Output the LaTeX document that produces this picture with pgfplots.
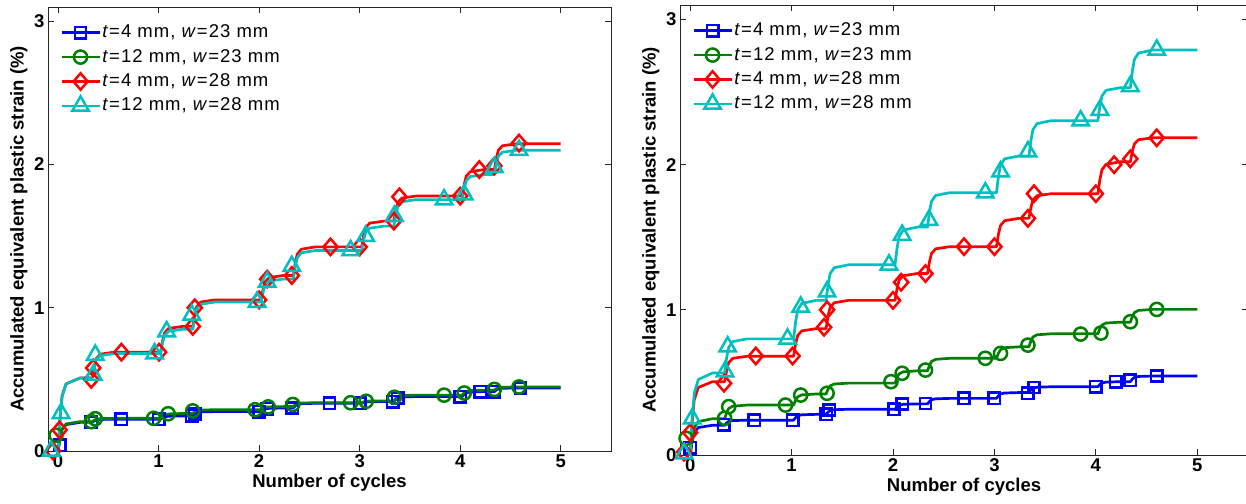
\documentclass[border=0pt]{standalone}
\usepackage{fontspec}
\setmainfont{Liberation Sans}
\newfontfamily\legfont[LetterSpace=5.5]{Liberation Sans}
\usepackage{pgfplots}
\pgfplotsset{compat=1.18}

\definecolor{mblue}{RGB}{0,0,255}
\definecolor{mgreen}{RGB}{0,128,0}
\definecolor{mred}{RGB}{255,0,0}
\definecolor{mcyan}{RGB}{0,191,191}

\pgfplotsset{
  strainaxis/.style={
    scale only axis, anchor=south west,
    xmin=-0.1, xmax=5.5, ymin=0, ymax=3.1,
    xtick={0,1,2,3,4,5}, ytick={0,1,2,3},
    tick align=inside, major tick length=6bp,
    axis line style={black!85, line width=0.8bp},
    every tick/.style={black!85, line width=0.8bp},
    /pgf/number format/assume math mode=true,
    tick label style={font=\fontsize{18.5bp}{20bp}\selectfont\bfseries},
    label style={font=\fontsize{18.5bp}{20bp}\selectfont\bfseries},
    xlabel={Number of cycles},
    ylabel={Accumulated equivalent plastic strain (\%)},
    clip=false,
    legend cell align=left,
    legend style={draw=none, fill=none, inner sep=0bp,
      at={(0,1)}, anchor=north west, xshift=12bp, yshift=-16bp,
      font=\legfont\fontsize{18.5bp}{20bp}\selectfont,
      nodes={inner sep=1.5bp, text height=13bp, text depth=3bp},
      row sep=5.4bp, column sep=0bp},
    legend image code/.code={\draw[mark repeat=2,mark phase=2,#1]
      plot coordinates {(0bp,0bp) (19bp,0bp) (38bp,0bp)};},
  },
  curve/.style={line width=2.7bp, line join=round, mark=none, forget plot},
  sqm/.style={mark=square, mark size=5.7bp, mark options={line width=2.5bp, solid}},
  cim/.style={mark=o, mark size=6.6bp, mark options={line width=2.5bp, solid}},
  dim/.style={mark=diamond, mark size=8.2bp, mark options={line width=2.5bp, solid, xscale=1.15}},
  trm/.style={mark=triangle, mark size=9.5bp, mark options={line width=2.5bp, solid}},
  pts/.style={only marks, forget plot},
}

\begin{document}
\begin{tikzpicture}[x=1bp, y=1bp]
\path[use as bounding box] (0,0) rectangle (1246,504);

% ---------------- left panel ----------------
\begin{axis}[strainaxis, at={(48bp,53bp)}, width=563bp, height=444bp]
% t=4 mm, w=23 mm
\addplot[mblue, curve] coordinates {
(0,0)(0.02,0.09)(0.04,0.15)(0.08,0.184)(0.22,0.2)
(0.34,0.2)(0.36,0.21)(0.38,0.217)(0.42,0.22)(0.56,0.222)
(1.02,0.222)(1.04,0.232)(1.06,0.239)(1.10,0.243)(1.24,0.245)
(1.34,0.245)(1.36,0.259)(1.38,0.268)(1.42,0.273)(1.56,0.275)
(2.02,0.275)(2.04,0.286)(2.06,0.294)(2.10,0.298)(2.24,0.30)
(2.34,0.30)(2.36,0.315)(2.38,0.325)(2.42,0.33)(2.56,0.333)
(3.02,0.333)(3.04,0.338)(3.06,0.342)(3.10,0.344)(3.24,0.345)
(3.34,0.345)(3.36,0.361)(3.38,0.371)(3.42,0.377)(3.56,0.38)
(4.02,0.38)(4.04,0.396)(4.06,0.406)(4.10,0.412)(4.24,0.415)
(4.34,0.415)(4.36,0.426)(4.38,0.434)(4.42,0.438)(4.56,0.44)
(5,0.44)};
\addplot[mblue, sqm, pts] coordinates {
(0.015,0.04)(0.33,0.2)(0.63,0.222)(1.0,0.222)(1.33,0.245)(1.36,0.26)
(2.0,0.275)(2.08,0.295)(2.33,0.30)(2.7,0.333)(3.0,0.333)(3.33,0.345)
(3.38,0.37)(4.0,0.38)(4.2,0.415)(4.34,0.415)(4.6,0.44)};
% t=12 mm, w=23 mm
\addplot[mgreen, curve] coordinates {
(0,0)(0.02,0.092)(0.04,0.154)(0.08,0.189)(0.22,0.205)
(0.34,0.205)(0.36,0.215)(0.38,0.222)(0.42,0.226)(0.56,0.228)
(1.02,0.228)(1.04,0.243)(1.06,0.254)(1.10,0.259)(1.24,0.262)
(1.34,0.262)(1.36,0.274)(1.38,0.282)(1.42,0.286)(1.56,0.288)
(2.02,0.288)(2.04,0.298)(2.06,0.305)(2.10,0.308)(2.24,0.31)
(2.34,0.31)(2.36,0.322)(2.38,0.33)(2.42,0.335)(2.56,0.337)
(3.02,0.337)(3.04,0.343)(3.06,0.347)(3.10,0.349)(3.24,0.35)
(3.34,0.35)(3.36,0.368)(3.38,0.38)(3.42,0.387)(3.56,0.39)
(4.02,0.39)(4.04,0.406)(4.06,0.416)(4.10,0.422)(4.24,0.425)
(4.34,0.425)(4.36,0.435)(4.38,0.442)(4.42,0.445)(4.56,0.447)
(5,0.447)};
\addplot[mgreen, cim, pts] coordinates {
(-0.02,0.11)(0.33,0.205)(0.37,0.225)(0.95,0.228)(1.095,0.26)(1.34,0.28)
(1.96,0.288)(2.09,0.308)(2.335,0.325)(2.91,0.337)(3.065,0.347)(3.345,0.375)
(3.84,0.39)(4.04,0.405)(4.34,0.43)(4.585,0.447)};
% t=4 mm, w=28 mm
\addplot[mred, curve] coordinates {
(0,0)(0.02,0.23)(0.04,0.383)(0.08,0.469)(0.22,0.51)
(0.34,0.51)(0.36,0.591)(0.38,0.645)(0.42,0.676)(0.56,0.69)
(1.02,0.69)(1.04,0.771)(1.06,0.825)(1.10,0.856)(1.24,0.87)
(1.34,0.87)(1.36,0.953)(1.38,1.009)(1.42,1.040)(1.56,1.055)
(2.02,1.055)(2.04,1.132)(2.06,1.183)(2.10,1.211)(2.24,1.225)
(2.34,1.225)(2.36,1.315)(2.38,1.375)(2.42,1.409)(2.56,1.425)
(3.02,1.425)(3.04,1.506)(3.06,1.56)(3.10,1.591)(3.24,1.605)
(3.34,1.605)(3.36,1.684)(3.38,1.736)(3.42,1.766)(3.56,1.78)
(4.02,1.78)(4.04,1.863)(4.06,1.919)(4.10,1.950)(4.24,1.965)
(4.34,1.965)(4.36,2.046)(4.38,2.1)(4.42,2.131)(4.56,2.145)
(5,2.145)};
\addplot[mred, dim, pts] coordinates {
(-0.05,0)(0.015,0.147)(0.33,0.50)(0.35,0.58)(0.63,0.69)(1.005,0.69)
(1.34,0.87)(1.36,1.0)(2.0,1.055)(2.08,1.20)(2.325,1.225)(2.71,1.425)
(3.0,1.425)(3.34,1.605)(3.395,1.775)(4.0,1.78)(4.19,1.965)(4.34,1.99)
(4.585,2.15)};
% t=12 mm, w=28 mm
\addplot[mcyan, curve] coordinates {
(0,0)(0.02,0.23)(0.04,0.383)(0.08,0.469)(0.22,0.51)
(0.34,0.51)(0.36,0.587)(0.38,0.638)(0.42,0.666)(0.56,0.68)
(1.02,0.68)(1.04,0.757)(1.06,0.808)(1.10,0.836)(1.24,0.85)
(1.34,0.85)(1.36,0.936)(1.38,0.993)(1.42,1.025)(1.56,1.04)
(2.02,1.04)(2.04,1.112)(2.06,1.16)(2.10,1.187)(2.24,1.2)
(2.34,1.2)(2.36,1.29)(2.38,1.35)(2.42,1.384)(2.56,1.4)
(3.02,1.4)(3.04,1.477)(3.06,1.528)(3.10,1.556)(3.24,1.57)
(3.34,1.57)(3.36,1.653)(3.38,1.709)(3.42,1.740)(3.56,1.755)
(4.02,1.755)(4.04,1.834)(4.06,1.886)(4.10,1.916)(4.24,1.93)
(4.34,1.93)(4.36,2.007)(4.38,2.058)(4.42,2.086)(4.56,2.10)
(5,2.10)};
\addplot[mcyan, trm, pts] coordinates {
(-0.07,0)(0.03,0.263)(0.35,0.53)(0.37,0.67)(0.96,0.68)(1.08,0.834)
(1.33,0.95)(1.98,1.04)(2.08,1.18)(2.325,1.29)(2.91,1.40)(3.06,1.50)
(3.345,1.64)(3.84,1.755)(4.04,1.79)(4.34,1.98)(4.585,2.10)};
\addlegendimage{mblue, line width=2.7bp, sqm}
\addlegendentry{\textit{t}=4 mm, \textit{w}=23 mm}
\addlegendimage{mgreen, line width=2.7bp, cim}
\addlegendentry{\textit{t}=12 mm, \textit{w}=23 mm}
\addlegendimage{mred, line width=2.7bp, dim}
\addlegendentry{\textit{t}=4 mm, \textit{w}=28 mm}
\addlegendimage{mcyan, line width=2.7bp, trm}
\addlegendentry{\textit{t}=12 mm, \textit{w}=28 mm}
\end{axis}

% ---------------- right panel ----------------
\begin{axis}[strainaxis, at={(680bp,49bp)}, width=568bp, height=450bp]
% t=4 mm, w=23 mm
\addplot[mblue, curve] coordinates {
(0,0)(0.02,0.092)(0.04,0.154)(0.08,0.189)(0.22,0.205)
(0.34,0.205)(0.36,0.221)(0.38,0.231)(0.42,0.237)(0.56,0.24)
(1.02,0.24)(1.04,0.258)(1.06,0.27)(1.10,0.277)(1.24,0.28)
(1.34,0.28)(1.36,0.296)(1.38,0.306)(1.42,0.312)(1.56,0.315)
(2.02,0.315)(2.04,0.332)(2.06,0.343)(2.10,0.349)(2.24,0.352)
(2.34,0.352)(2.36,0.369)(2.38,0.381)(2.42,0.387)(2.56,0.39)
(3.02,0.39)(3.04,0.408)(3.06,0.42)(3.10,0.427)(3.24,0.43)
(3.34,0.43)(3.36,0.448)(3.38,0.46)(3.42,0.467)(3.56,0.47)
(4.02,0.47)(4.04,0.486)(4.06,0.496)(4.10,0.502)(4.24,0.505)
(4.34,0.505)(4.36,0.523)(4.38,0.534)(4.42,0.541)(4.56,0.544)
(5,0.544)};
\addplot[mblue, sqm, pts] coordinates {
(0.0,0.05)(0.33,0.207)(0.63,0.24)(1.01,0.24)(1.34,0.28)(1.37,0.31)
(2.01,0.315)(2.09,0.351)(2.32,0.355)(2.70,0.39)(3.0,0.39)(3.33,0.425)
(3.39,0.465)(4.0,0.47)(4.195,0.505)(4.34,0.515)(4.6,0.544)};
% t=12 mm, w=23 mm
\addplot[mgreen, curve] coordinates {
(0,0)(0.02,0.113)(0.04,0.188)(0.08,0.23)(0.22,0.25)
(0.34,0.25)(0.36,0.292)(0.38,0.321)(0.42,0.336)(0.56,0.344)
(1.02,0.344)(1.04,0.378)(1.06,0.401)(1.10,0.414)(1.24,0.42)
(1.34,0.42)(1.36,0.454)(1.38,0.476)(1.42,0.489)(1.56,0.495)
(2.02,0.495)(2.04,0.533)(2.06,0.559)(2.10,0.573)(2.24,0.58)
(2.34,0.58)(2.36,0.619)(2.38,0.645)(2.42,0.659)(2.56,0.666)
(3.02,0.666)(3.04,0.702)(3.06,0.725)(3.10,0.739)(3.24,0.745)
(3.34,0.745)(3.36,0.786)(3.38,0.813)(3.42,0.828)(3.56,0.835)
(4.02,0.835)(4.04,0.871)(4.06,0.895)(4.10,0.909)(4.24,0.915)
(4.34,0.915)(4.36,0.955)(4.38,0.981)(4.42,0.996)(4.56,1.003)
(5,1.003)};
\addplot[mgreen, cim, pts] coordinates {
(-0.04,0.115)(0.34,0.253)(0.38,0.333)(0.94,0.344)(1.09,0.413)(1.35,0.425)
(1.98,0.505)(2.09,0.563)(2.32,0.585)(2.91,0.666)(3.06,0.70)(3.33,0.757)
(3.85,0.833)(4.05,0.84)(4.34,0.918)(4.6,1.003)};
% t=4 mm, w=28 mm
\addplot[mred, curve] coordinates {
(0,0)(0.02,0.227)(0.04,0.379)(0.08,0.465)(0.22,0.505)
(0.34,0.505)(0.36,0.584)(0.38,0.636)(0.42,0.666)(0.56,0.68)
(1.02,0.68)(1.04,0.766)(1.06,0.823)(1.10,0.855)(1.24,0.87)
(1.34,0.87)(1.36,0.958)(1.38,1.016)(1.42,1.049)(1.56,1.065)
(2.02,1.065)(2.04,1.148)(2.06,1.204)(2.10,1.235)(2.24,1.25)
(2.34,1.25)(2.36,1.333)(2.38,1.389)(2.42,1.42)(2.56,1.435)
(3.02,1.435)(3.04,1.523)(3.06,1.581)(3.10,1.614)(3.24,1.63)
(3.34,1.63)(3.36,1.707)(3.38,1.758)(3.42,1.786)(3.56,1.80)
(4.02,1.80)(4.04,1.899)(4.06,1.965)(4.10,2.002)(4.24,2.02)
(4.34,2.02)(4.36,2.094)(4.38,2.144)(4.42,2.172)(4.56,2.185)
(5,2.185)};
\addplot[mred, dim, pts] coordinates {
(-0.06,0.02)(0.0,0.154)(0.334,0.494)(0.647,0.682)(1.01,0.682)(1.32,0.88)
(1.35,1.0)(2.0,1.065)(2.08,1.19)(2.32,1.25)(2.70,1.435)(3.0,1.435)
(3.33,1.63)(3.39,1.80)(4.0,1.80)(4.18,2.0)(4.34,2.04)(4.6,2.185)};
% t=12 mm, w=28 mm
\addplot[mcyan, curve] coordinates {
(0,0)(0.02,0.254)(0.04,0.424)(0.08,0.52)(0.22,0.565)
(0.34,0.565)(0.36,0.671)(0.38,0.741)(0.42,0.781)(0.56,0.80)
(1.02,0.80)(1.04,0.919)(1.06,0.999)(1.10,1.044)(1.24,1.065)
(1.34,1.065)(1.36,1.175)(1.38,1.249)(1.42,1.29)(1.56,1.31)
(2.02,1.31)(2.04,1.427)(2.06,1.505)(2.10,1.549)(2.24,1.57)
(2.34,1.57)(2.36,1.677)(2.38,1.748)(2.42,1.788)(2.56,1.807)
(3.02,1.807)(3.04,1.921)(3.06,1.997)(3.10,2.04)(3.24,2.06)
(3.34,2.06)(3.36,2.169)(3.38,2.242)(3.42,2.283)(3.56,2.303)
(4.02,2.303)(4.04,2.405)(4.06,2.473)(4.10,2.512)(4.24,2.53)
(4.34,2.53)(4.36,2.647)(4.38,2.725)(4.42,2.769)(4.56,2.79)
(5,2.79)};
\addplot[mcyan, trm, pts] coordinates {
(-0.06,0.01)(0.02,0.25)(0.344,0.574)(0.37,0.746)(0.96,0.80)(1.09,1.02)
(1.35,1.125)(1.96,1.31)(2.09,1.515)(2.355,1.618)(2.91,1.807)(3.06,1.952)
(3.33,2.09)(3.85,2.303)(4.04,2.376)(4.34,2.54)(4.6,2.79)};
\addlegendimage{mblue, line width=2.7bp, sqm}
\addlegendentry{\textit{t}=4 mm, \textit{w}=23 mm}
\addlegendimage{mgreen, line width=2.7bp, cim}
\addlegendentry{\textit{t}=12 mm, \textit{w}=23 mm}
\addlegendimage{mred, line width=2.7bp, dim}
\addlegendentry{\textit{t}=4 mm, \textit{w}=28 mm}
\addlegendimage{mcyan, line width=2.7bp, trm}
\addlegendentry{\textit{t}=12 mm, \textit{w}=28 mm}
\end{axis}
\end{tikzpicture}
\end{document}
